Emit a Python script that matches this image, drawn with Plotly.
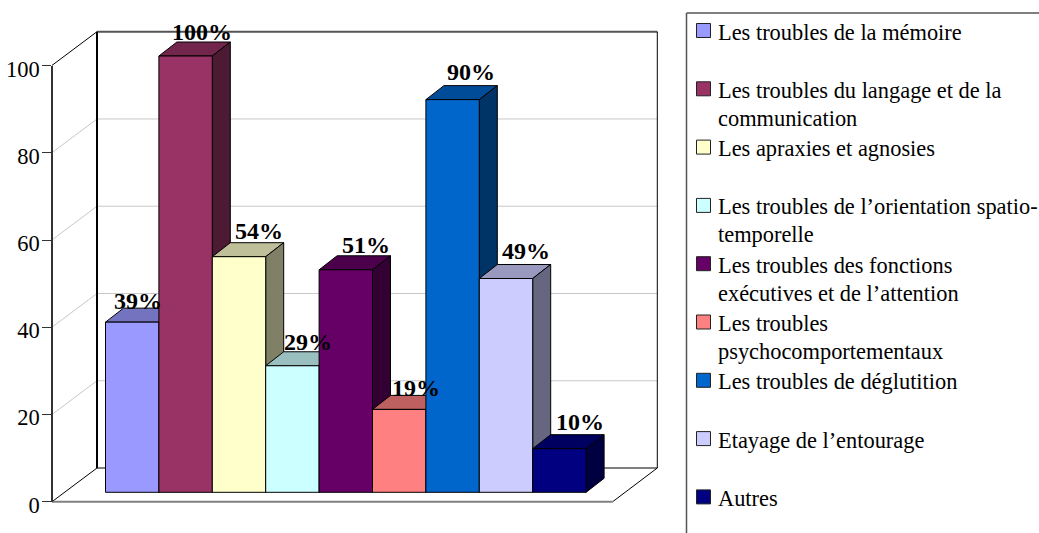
import plotly.graph_objects as go

# chart data
categories = ['Les troubles de la mémoire',
              'Les troubles du langage et de la<br>communication',
              'Les apraxies et agnosies',
              'Les troubles de l’orientation spatio-<br>temporelle',
              'Les troubles des fonctions<br>exécutives et de l’attention',
              'Les troubles<br>psychocomportementaux',
              'Les troubles de déglutition',
              'Etayage de l’entourage',
              'Autres']
values = [39, 100, 54, 29, 51, 19, 90, 49, 10]
y_ticks = [0, 20, 40, 60, 80, 100]
colors = ['#9999FF', '#993366', '#FFFFCC', '#CCFFFF', '#660066',
          '#FF8080', '#0066CC', '#CCCCFF', '#000080']

# nudges for the value labels, in px
label_dx = [6, 16, 20, 16, 20, 17, 18, 20, 21]
label_dy = [7, 10, 12, 10, 11, 7, 14, 14, 13]

W, H = 1039, 533
PX_X = 53.4     # px per bar
PX_Y = 4.363    # px per unit of value
X0, Y0 = 105.5, 492.3   # pixel of the bars' origin


def to_x(px):
    return (px - X0) / PX_X


def to_y(py):
    return (Y0 - py) / PX_Y


def shade(hex_color, k):
    r, g, b = [int(hex_color[i:i + 2], 16) for i in (1, 3, 5)]
    return f'rgb({round(r * k)},{round(g * k)},{round(b * k)})'


# depth of a bar, and of the box it stands in
DX, DY = 18 / PX_X, 14 / PX_Y
FRONT_L, FRONT_R = to_x(52), to_x(612.7)
BACK_L, BACK_R = to_x(97), to_x(657.3)
FRONT_DY, BACK_DY = to_y(501.7), to_y(468)

x_range = [to_x(0), to_x(W)]
y_range = [to_y(H), to_y(0)]


def line_trace(x, y, color, width):
    return go.Scatter(x=x, y=y, mode='lines', hoverinfo='skip',
                      line=dict(color=color, width=width))


fig = go.Figure()

# gridlines on the walls
for t in y_ticks[1:-1]:
    fig.add_trace(line_trace([FRONT_L, BACK_L, BACK_R],
                             [t + FRONT_DY, t + BACK_DY, t + BACK_DY], '#C8C8C8', 1))

# box outline
top = 100
fig.add_trace(line_trace([FRONT_L, BACK_L], [top + FRONT_DY, top + BACK_DY], 'black', 1))
fig.add_trace(line_trace([FRONT_L, BACK_L], [FRONT_DY, BACK_DY], 'black', 1))
fig.add_trace(line_trace([BACK_L, BACK_R], [top + BACK_DY, top + BACK_DY], '#555555', 2))
fig.add_trace(line_trace([BACK_L, BACK_L], [BACK_DY, top + BACK_DY], 'black', 2))
fig.add_trace(line_trace([BACK_R, BACK_R], [BACK_DY, top + BACK_DY], 'black', 1))
fig.add_trace(line_trace([BACK_L, BACK_R], [BACK_DY, BACK_DY], 'black', 1))
fig.add_trace(line_trace([FRONT_R, BACK_R], [FRONT_DY, BACK_DY], 'black', 1))
fig.add_trace(line_trace([FRONT_L, FRONT_R], [FRONT_DY, FRONT_DY], '#808080', 2))

# top and side faces, left to right so later bars cover earlier ones
for i, v in enumerate(values):
    fig.add_trace(go.Scatter(
        x=[i, i + 1, i + 1 + DX, i + DX, i], y=[v, v, v + DY, v + DY, v],
        mode='lines', fill='toself', fillcolor=shade(colors[i], 0.75),
        line=dict(color='black', width=1), hoverinfo='skip'))
    fig.add_trace(go.Scatter(
        x=[i + 1, i + 1 + DX, i + 1 + DX, i + 1, i + 1], y=[0, DY, v + DY, v, 0],
        mode='lines', fill='toself', fillcolor=shade(colors[i], 0.5),
        line=dict(color='black', width=1), hoverinfo='skip'))

# front faces sit on an overlaid subplot so they cover the side faces
fig.add_trace(go.Bar(
    x=[i + 0.5 for i in range(len(values))], y=values, width=1,
    marker=dict(color=colors, line=dict(color='black', width=1)),
    xaxis='x2', yaxis='y3', hovertext=categories, hoverinfo='text+y'))

# only here so that the value axis is drawn
fig.add_trace(go.Scatter(x=[0, 0], y=y_ticks[:2], yaxis='y2', mode='markers',
                         marker=dict(opacity=0), hoverinfo='skip'))

# value labels
for i, v in enumerate(values):
    fig.add_annotation(x=i + 0.5, y=v, xref='x2', yref='y3', text=f'<b>{v}%</b>',
                       showarrow=False, xshift=label_dx[i], yshift=label_dy[i],
                       yanchor='bottom', borderpad=0,
                       font=dict(family='Liberation Serif', size=24, color='black'))

# legend, built by hand because it has to line up row by row
LEG_X, LEG_TOP, LEG_STEP = 686.5, 13, 58.3
fig.add_shape(type='line', xref='paper', yref='paper', x0=LEG_X / W, x1=1,
              y0=1 - LEG_TOP / H, y1=1 - LEG_TOP / H, line=dict(color='#555555', width=1.5))
fig.add_shape(type='line', xref='paper', yref='paper', x0=LEG_X / W, x1=LEG_X / W,
              y0=1 - LEG_TOP / H, y1=0, line=dict(color='#555555', width=1.5))

for i, name in enumerate(categories):
    mid = 30.5 + LEG_STEP * i
    fig.add_shape(type='rect', xref='paper', yref='paper',
                  x0=696.5 / W, x1=710.5 / W, y0=1 - (mid - 7) / H, y1=1 - (mid + 7) / H,
                  fillcolor=colors[i], line=dict(color='#222222', width=1))
    for j, row in enumerate(name.split('<br>')):
        fig.add_annotation(x=716.5 / W, y=1 - (mid + 1.5 + 28 * j) / H, xref='paper', yref='paper',
                           text=row, showarrow=False, xanchor='left', yanchor='middle',
                           borderpad=0,
                           font=dict(family='Liberation Serif', size=22.4, color='black'))

hidden = dict(visible=False, showgrid=False, zeroline=False)
fig.update_layout(
    width=W, height=H,
    margin=dict(l=0, r=0, t=0, b=0, autoexpand=False),
    paper_bgcolor='white', plot_bgcolor='rgba(0,0,0,0)',
    showlegend=False,
    xaxis=dict(range=x_range, **hidden),
    yaxis=dict(range=y_range, domain=[0, 1], **hidden),
    xaxis2=dict(range=x_range, overlaying='x', **hidden),
    yaxis3=dict(range=y_range, overlaying='y', anchor='x2', **hidden),
    yaxis2=dict(range=[0, 100], domain=[1 - 501.7 / H, 1 - 65.7 / H],
                anchor='free', position=52 / W, side='left',
                tickvals=y_ticks, ticks='outside', ticklen=9, tickcolor='#333333',
                showline=True, linecolor='#333333', linewidth=1.5,
                showgrid=False, zeroline=False,
                ticklabelstandoff=-2, ticklabelshift=3,
                tickfont=dict(family='Liberation Serif', size=22.5, color='black')),
)

fig.write_html("out.html", config=dict(displayModeBar=False),
               post_script="document.body.style.margin='0'")
